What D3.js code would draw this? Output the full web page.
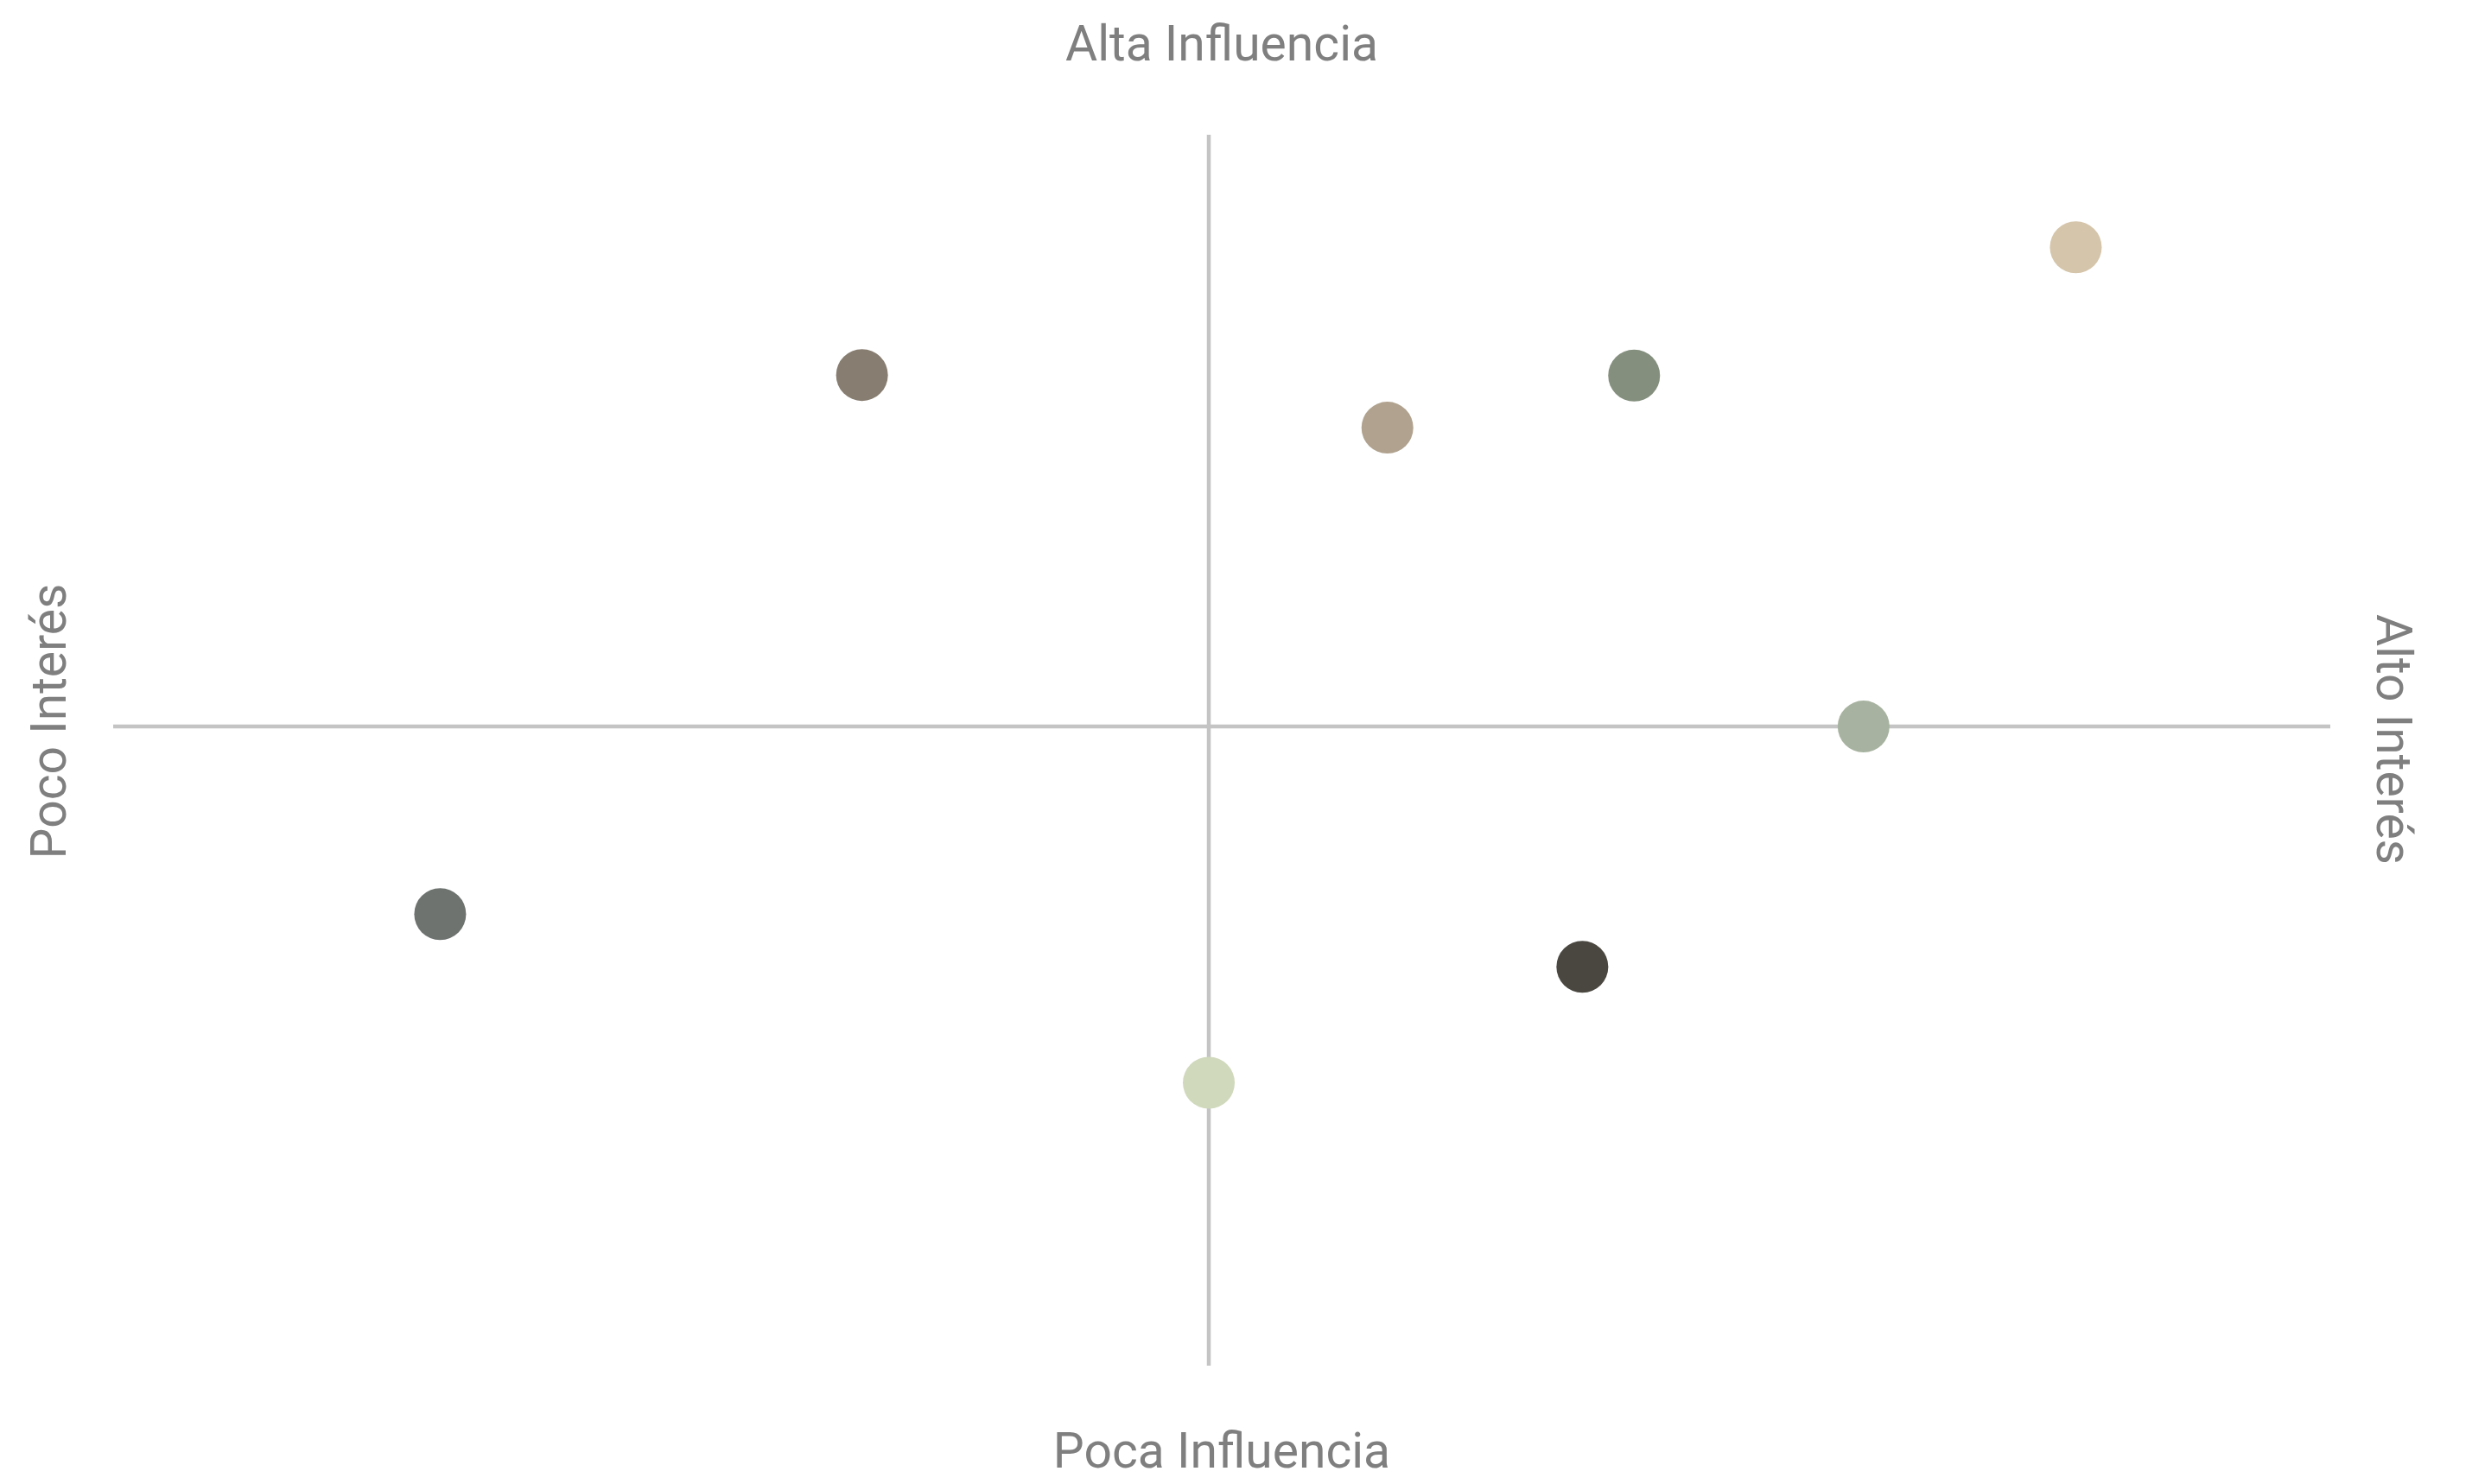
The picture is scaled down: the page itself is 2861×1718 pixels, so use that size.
<!DOCTYPE html>
<html>
<head>
<meta charset="utf-8">
<script src="https://cdn.jsdelivr.net/npm/d3@7"></script>
<style>
  html, body { margin: 0; padding: 0; background: #ffffff; }
  svg { display: block; }
</style>
</head>
<body>
<script>
// Stakeholder matrix data (interest on x, influence on y)
const stakeholders = ["A", "B", "C", "D", "E", "F", "G", "H"];
const interest  = [-4.02, 2.07, 4.93, 10.05, 7.59, -8.91, 4.33, 0.00];
const influence = [ 5.94, 5.05, 5.93,  8.10, 0.00, -3.17, -4.06, -6.02];
const pointColors = ["#877d70", "#b0a28e", "#848f7e", "#d5c5aa", "#a7b3a0", "#6e7370", "#4a4740", "#d0d9bc"];
const xDomain = [-12.7, 13];
const yDomain = [-10.8, 10];
const labels = { top: "Alta Influencia", bottom: "Poca Influencia", left: "Poco Interés", right: "Alto Interés" };

const W = 2861, H = 1718;
const svg = d3.select("body").append("svg").attr("width", W).attr("height", H);

const x = d3.scaleLinear().domain(xDomain).range([131, 2697]);
const y = d3.scaleLinear().domain(yDomain).range([1581, 156]);

const axisColor = "#c4c4c4";
// Horizontal axis (influence = 0)
svg.append("line")
  .attr("x1", x(xDomain[0])).attr("x2", x(xDomain[1]))
  .attr("y1", y(0)).attr("y2", y(0))
  .attr("stroke", axisColor).attr("stroke-width", 4.5);
// Vertical axis (interest = 0)
svg.append("line")
  .attr("x1", x(0)).attr("x2", x(0))
  .attr("y1", y(yDomain[1])).attr("y2", y(yDomain[0]))
  .attr("stroke", axisColor).attr("stroke-width", 4.5);

const data = stakeholders.map((s, i) => ({ s, xv: interest[i], yv: influence[i], c: pointColors[i] }));
svg.append("g").selectAll("circle").data(data).join("circle")
  .attr("cx", d => x(d.xv))
  .attr("cy", d => y(d.yv))
  .attr("r", 30)
  .attr("fill", d => d.c);

const font = "Roboto, 'Noto Sans', sans-serif";
const textColor = "#7f7f7f";
const fs = 57;
const cx = (x.range()[0] + x.range()[1]) / 2;

svg.append("text").text(labels.top)
  .attr("x", cx).attr("y", 70)
  .attr("text-anchor", "middle").attr("font-family", font).attr("font-size", fs).attr("fill", textColor);
svg.append("text").text(labels.bottom)
  .attr("x", cx).attr("y", 1699)
  .attr("text-anchor", "middle").attr("font-family", font).attr("font-size", fs).attr("fill", textColor);
svg.append("text").text(labels.left)
  .attr("transform", `translate(76,835) rotate(-90)`)
  .attr("text-anchor", "middle").attr("font-family", font).attr("font-size", fs).attr("fill", textColor);
svg.append("text").text(labels.right)
  .attr("transform", `translate(2751,856) rotate(90)`)
  .attr("text-anchor", "middle").attr("font-family", font).attr("font-size", fs).attr("fill", textColor);
</script>
</body>
</html>
